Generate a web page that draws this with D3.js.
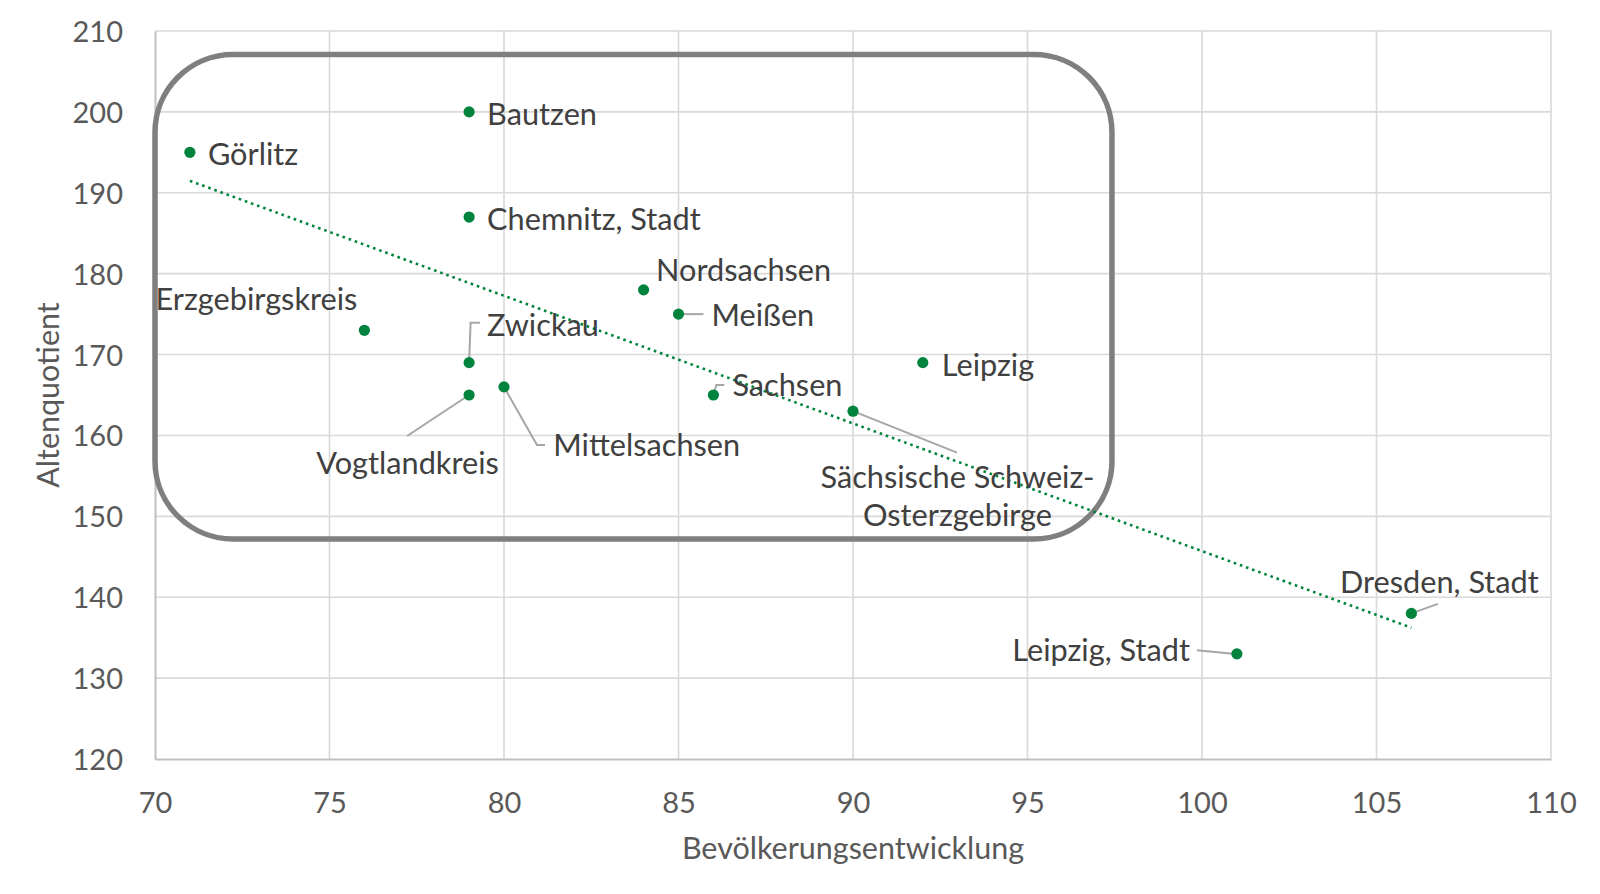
<!DOCTYPE html>
<html>
<head>
<meta charset="utf-8">
<script src="https://cdn.jsdelivr.net/npm/d3@7"></script>
<style>
  html, body { margin: 0; padding: 0; background: #fff; }
  svg { display: block; font-family: Lato, "Open Sans", sans-serif; }
</style>
</head>
<body>
<svg id="chart" width="1600" height="894"></svg>
<script>
// ---------- data ----------
const names = ["Görlitz", "Bautzen", "Chemnitz, Stadt", "Nordsachsen", "Meißen", "Zwickau",
  "Vogtlandkreis", "Mittelsachsen", "Sachsen", "Erzgebirgskreis", "Leipzig",
  "Sächsische Schweiz-Osterzgebirge", "Dresden, Stadt", "Leipzig, Stadt"];
const bevoelkerung = [71, 79, 79, 84, 85, 79, 79, 80, 86, 76, 92, 90, 106, 101];
const altenquotient = [195, 200, 187, 178, 175, 169, 165, 166, 165, 173, 169, 163, 138, 133];
const xTicks = [70, 75, 80, 85, 90, 95, 100, 105, 110];
const yTicks = [120, 130, 140, 150, 160, 170, 180, 190, 200, 210];
const xTitle = "Bevölkerungsentwicklung";
const yTitle = "Altenquotient";

// ---------- label layout (pixel offsets from point) ----------
const labelLayout = {
  "Görlitz":        { dx: 18, dy: 12.5, anchor: "start" },
  "Bautzen":        { dx: 18, dy: 13, anchor: "start" },
  "Chemnitz, Stadt":{ dx: 18, dy: 12.5, anchor: "start" },
  "Nordsachsen":    { dx: 12.5, dy: -8.5, anchor: "start" },
  "Meißen":         { dx: 33, dy: 12, anchor: "start", leader: [[0,0],[25,0]] },
  "Zwickau":        { dx: 18, dy: -26.5, anchor: "start", leader: [[0,0],[1.5,-40],[11,-40]] },
  "Vogtlandkreis":  { dx: -61.5, dy: 78.5, anchor: "middle", leader: [[0,0],[-62,41]] },
  "Mittelsachsen":  { dx: 49.3, dy: 69, anchor: "start", leader: [[0,0],[33,58],[41,58]] },
  "Sachsen":        { dx: 19, dy: 1, anchor: "start", leader: [[0,0],[3,-10],[11,-10]] },
  "Erzgebirgskreis":{ dx: -7, dy: -20, anchor: "end" },
  "Leipzig":        { dx: 19, dy: 13.2, anchor: "start" },
  "Sächsische Schweiz-Osterzgebirge": { dx: 104.5, dy: 76.5, anchor: "middle",
      lines: ["Sächsische Schweiz-", "Osterzgebirge"], lineH: 38.3, leader: [[0,0],[104,41.5]] },
  "Dresden, Stadt": { dx: 28, dy: -20, anchor: "middle", leader: [[1.5,-0.5],[26.5,-9.5]] },
  "Leipzig, Stadt": { dx: -47, dy: 7, anchor: "end", leader: [[-4,0],[-40,-3.5]] }
};

// highlight box in data units
const boxX = [70, 97.42], boxY = [147.2, 207.1];

// ---------- chart ----------
const svg = d3.select("#chart");
const M = { left: 155, right: 1551, top: 31, bottom: 759 };
const x = d3.scaleLinear().domain([70, 110]).range([M.left, M.right]);
const y = d3.scaleLinear().domain([120, 210]).range([M.bottom, M.top]);

const green = "#00843d";
const gridColor = "#d9d9d9";

// gridlines
const g = svg.append("g");
g.selectAll("line.vg").data(xTicks.slice(1)).join("line")
  .attr("x1", d => x(d)).attr("x2", d => x(d))
  .attr("y1", M.top).attr("y2", M.bottom)
  .attr("stroke", gridColor).attr("stroke-width", 1.6);
g.selectAll("line.hg").data(yTicks.slice(1)).join("line")
  .attr("x1", M.left).attr("x2", M.right)
  .attr("y1", d => y(d)).attr("y2", d => y(d))
  .attr("stroke", gridColor).attr("stroke-width", 1.6);

// axes
const xAxis = d3.axisBottom(x).tickValues(xTicks).tickSize(0).tickPadding(33);
const yAxis = d3.axisLeft(y).tickValues(yTicks).tickSize(0).tickPadding(32);
const gx = svg.append("g").attr("transform", `translate(0,${M.bottom})`).call(xAxis);
const gy = svg.append("g").attr("transform", `translate(${M.left},0)`).call(yAxis);
[gx, gy].forEach(a => {
  a.select(".domain").attr("stroke", "#bfbfbf").attr("stroke-width", 2);
  a.selectAll("text").attr("fill", "#595959").attr("font-size", 29)
    .attr("font-family", "Lato, sans-serif");
});
gy.selectAll(".tick text").attr("dy", "0.36em");
gx.selectAll(".tick text").attr("dy", "0.71em");

// axis titles
svg.append("text").attr("x", (M.left + M.right) / 2).attr("y", 859)
  .attr("text-anchor", "middle").attr("fill", "#595959").attr("font-size", 30.5)
  .text(xTitle);
svg.append("text").attr("transform", `translate(59,${(M.top + M.bottom) / 2}) rotate(-90)`)
  .attr("text-anchor", "middle").attr("fill", "#595959").attr("font-size", 30.5)
  .text(yTitle);

// rounded highlight box
svg.append("rect")
  .attr("x", x(boxX[0])).attr("y", y(boxY[1]))
  .attr("width", x(boxX[1]) - x(boxX[0])).attr("height", y(boxY[0]) - y(boxY[1]))
  .attr("rx", 78).attr("ry", 78)
  .attr("fill", "none").attr("stroke", "#7f7f7f").attr("stroke-width", 5.5);

// trendline (least squares from data)
const n = bevoelkerung.length;
const mx = d3.mean(bevoelkerung), my = d3.mean(altenquotient);
let sxy = 0, sxx = 0;
for (let i = 0; i < n; i++) {
  sxy += (bevoelkerung[i] - mx) * (altenquotient[i] - my);
  sxx += (bevoelkerung[i] - mx) ** 2;
}
const slope = sxy / sxx, icpt = my - slope * mx;
const [xmin, xmax] = d3.extent(bevoelkerung);
svg.append("line")
  .attr("x1", x(xmin)).attr("y1", y(icpt + slope * xmin))
  .attr("x2", x(xmax)).attr("y2", y(icpt + slope * xmax))
  .attr("stroke", green).attr("stroke-width", 2.6)
  .attr("stroke-dasharray", "2.6 3.9");

// data
const pts = names.map((nm, i) => ({ name: nm, bx: bevoelkerung[i], ay: altenquotient[i] }));

// leader lines
const lineGen = d3.line();
svg.append("g").selectAll("path").data(pts.filter(p => labelLayout[p.name].leader)).join("path")
  .attr("d", p => lineGen(labelLayout[p.name].leader.map(([a, b]) => [x(p.bx) + a, y(p.ay) + b])))
  .attr("fill", "none").attr("stroke", "#a6a6a6").attr("stroke-width", 2);

// points
svg.append("g").selectAll("circle").data(pts).join("circle")
  .attr("cx", p => x(p.bx)).attr("cy", p => y(p.ay)).attr("r", 5.6)
  .attr("fill", green);

// labels
const lg = svg.append("g").attr("fill", "#404040").attr("font-size", 30.7);
pts.forEach(p => {
  const L = labelLayout[p.name];
  const t = lg.append("text")
    .attr("x", x(p.bx) + L.dx).attr("y", y(p.ay) + L.dy)
    .attr("text-anchor", L.anchor);
  if (L.lines) {
    L.lines.forEach((s, i) => t.append("tspan")
      .attr("x", x(p.bx) + L.dx).attr("y", y(p.ay) + L.dy + i * L.lineH).text(s));
  } else {
    t.text(p.name);
  }
});
</script>
</body>
</html>
